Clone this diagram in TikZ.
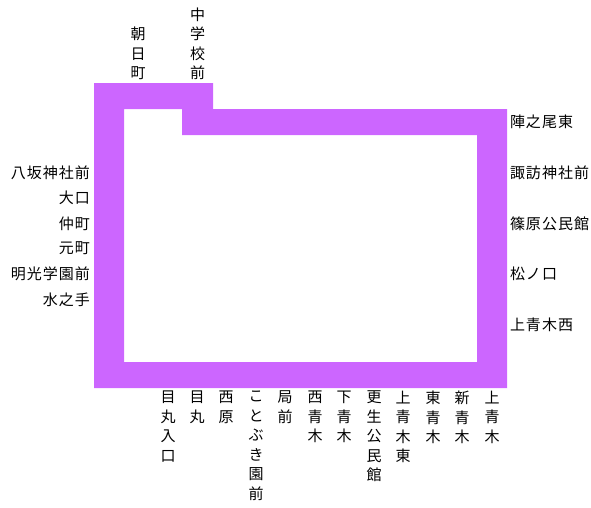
\documentclass[tikz,border=0pt]{standalone}
\usepackage{fontspec}
\newfontfamily\jpfont{Noto Sans CJK JP}
\definecolor{linepurple}{HTML}{CC66FF}
\tikzset{
  hlabel/.style={inner sep=0pt,outer sep=0pt,font=\jpfont\fontsize{15}{19.5}\selectfont\addfontfeatures{LetterSpace=6.7}},
  leftlabel/.style={hlabel,anchor=east},
  rightlabel/.style={hlabel,anchor=west},
  vlabel/.style={inner sep=0pt,outer sep=0pt,align=center,font=\jpfont\fontsize{15}{19.5}\selectfont},
  toplabel/.style={vlabel,anchor=south},
  bottomlabel/.style={vlabel,anchor=north},
}
\begin{document}
\begin{tikzpicture}[x=1pt,y=-1pt]
\useasboundingbox (0,0) rectangle (591,507);
\fill[linepurple,even odd rule]
  (94,83) -- (213,83) -- (213,109) -- (507,109) -- (507,388) -- (94,388) -- cycle
  (124,109) -- (182,109) -- (182,135) -- (477,135) -- (477,362) -- (124,362) -- cycle;
\node[toplabel] (asahi) at (138,80) {朝\\日\\町};
\node[toplabel] (chugaku) at (197.5,80) {中\\学\\校\\前};
\node[leftlabel] (l1) at (90,172.5) {八坂神社前};
\node[leftlabel] (l2) at (90,197.5) {大口};
\node[leftlabel] (l3) at (90,223.5) {仲町};
\node[leftlabel] (l4) at (90,248.5) {元町};
\node[leftlabel] (l5) at (90,273.5) {明光学園前};
\node[leftlabel] (l6) at (90,299.5) {水之手};
\node[rightlabel] (r1) at (510,121.5) {陣之尾東};
\node[rightlabel] (r2) at (510,172.5) {諏訪神社前};
\node[rightlabel] (r3) at (510,223.5) {篠原公民館};
\node[rightlabel] (r4) at (510,273.5) {松ノ口};
\node[rightlabel] (r5) at (510,324.5) {上青木西};
\node[bottomlabel] (b1) at (168,391) {目\\丸\\入\\口};
\node[bottomlabel] (b2) at (197,391) {目\\丸};
\node[bottomlabel] (b3) at (226,391) {西\\原};
\node[bottomlabel] (b4) at (256,391) {こ\\と\\ぶ\\き\\園\\前};
\node[bottomlabel] (b5) at (285,391) {局\\前};
\node[bottomlabel] (b6) at (315,391) {西\\青\\木};
\node[bottomlabel] (b7) at (344,391) {下\\青\\木};
\node[bottomlabel] (b8) at (374,391) {更\\生\\公\\民\\館};
\node[bottomlabel] (b9) at (403,391) {上\\青\\木\\東};
\node[bottomlabel] (b10) at (433,391) {東\\青\\木};
\node[bottomlabel] (b11) at (462,391) {新\\青\\木};
\node[bottomlabel] (b12) at (492,391) {上\\青\\木};
\end{tikzpicture}
\end{document}
